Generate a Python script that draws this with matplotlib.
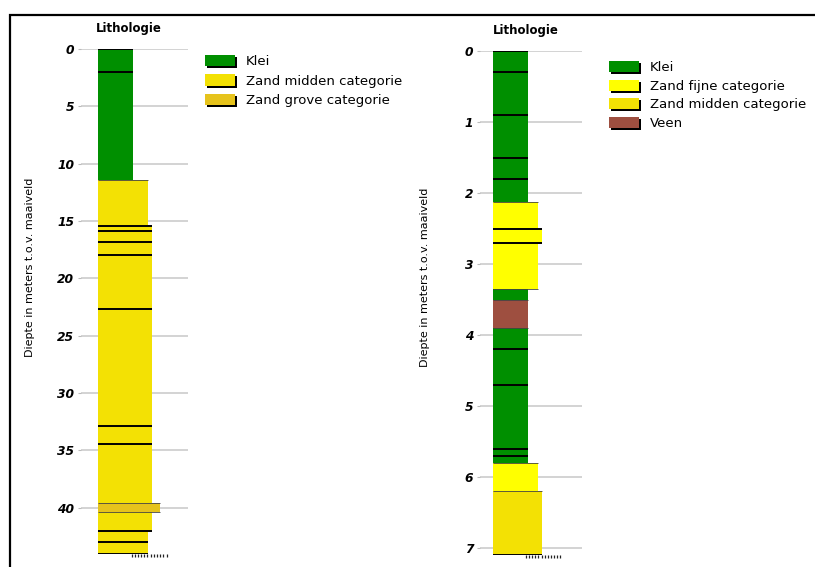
import numpy as np
import matplotlib
matplotlib.use("Agg")
import matplotlib.pyplot as plt
import matplotlib.patheffects as pe
from matplotlib.patches import Patch, Rectangle

# kleuren per lithologie
kleuren = {
    "Klei": "#008f00",
    "Zand fijne categorie": "#ffff00",
    "Zand midden categorie": "#f3e104",
    "Zand grove categorie": "#e6c31c",
    "Veen": "#9e4f40",
}

# boring 1 (links): bovenkant, onderkant, lithologie, breedte (relatief)
links_top = [0.0, 2.0, 11.4, 15.4, 15.9, 16.85, 17.95, 22.7, 32.9, 34.4, 39.6, 40.4, 42.0, 42.95]
links_bot = [2.0, 11.4, 15.4, 15.9, 16.85, 17.95, 22.7, 32.9, 34.4, 39.6, 40.4, 42.0, 42.95, 44.0]
links_lith = ["Klei", "Klei", "Zand midden categorie", "Zand midden categorie",
              "Zand midden categorie", "Zand midden categorie", "Zand midden categorie",
              "Zand midden categorie", "Zand midden categorie", "Zand midden categorie",
              "Zand grove categorie", "Zand midden categorie", "Zand midden categorie",
              "Zand midden categorie"]
links_breedte = [1.0, 1.0, 1.41, 1.54, 1.54, 1.54, 1.54, 1.54, 1.54, 1.54, 1.75, 1.54, 1.41, 1.41]
links_ticks = [0, 5, 10, 15, 20, 25, 30, 35, 40]
links_legenda = ["Klei", "Zand midden categorie", "Zand grove categorie"]

# boring 2 (rechts)
rechts_top = [0.0, 0.3, 0.9, 1.5, 1.8, 2.12, 2.5, 2.7, 3.35, 3.5, 3.9, 4.2, 4.7, 5.6, 5.7, 5.8, 6.2]
rechts_bot = [0.3, 0.9, 1.5, 1.8, 2.12, 2.5, 2.7, 3.35, 3.5, 3.9, 4.2, 4.7, 5.6, 5.7, 5.8, 6.2, 7.1]
rechts_lith = ["Klei", "Klei", "Klei", "Klei", "Klei", "Zand fijne categorie",
               "Zand fijne categorie", "Zand fijne categorie", "Klei", "Veen", "Klei",
               "Klei", "Klei", "Klei", "Klei", "Zand fijne categorie", "Zand midden categorie"]
rechts_breedte = [1.0, 1.0, 1.0, 1.0, 1.0, 1.29, 1.42, 1.29, 1.0, 1.0, 1.0, 1.0, 1.0, 1.0, 1.0, 1.29, 1.42]
rechts_ticks = [0, 1, 2, 3, 4, 5, 6, 7]
rechts_legenda = ["Klei", "Zand fijne categorie", "Zand midden categorie", "Veen"]

W, H = 815, 567
fig = plt.figure(figsize=(W / 100, H / 100), dpi=100)


def teken_boring(rect, top, bot, lith, breedte, ticks, xlim):
    ax = fig.add_axes(rect)
    top = np.array(top)
    bot = np.array(bot)
    dikte = bot - top
    ax.barh(top, breedte, height=dikte, left=0, align="edge",
            color=[kleuren[l] for l in lith], edgecolor="none", zorder=2)
    # grenslijnen tussen lagen
    grenzen = list(top) + [bot[-1]]
    for i, d in enumerate(grenzen):
        boven = breedte[i - 1] if i > 0 else 0
        onder = breedte[i] if i < len(breedte) else 0
        wissel = 0 < i < len(lith) and lith[i] != lith[i - 1]
        if wissel:
            ax.hlines(d, 0, max(boven, onder), color="#444444", lw=0.6, zorder=3)
        else:
            ax.hlines(d, 0, max(boven, onder), color="black", lw=1.4, zorder=3)
    ax.set_ylim(bot[-1], 0)
    ax.set_xlim(*xlim)
    ax.set_yticks(ticks)
    ax.set_yticklabels([str(t) for t in ticks], fontsize=8.8, fontweight="bold", style="italic")
    ax.tick_params(axis="y", length=2, color="#bbbbbb", pad=3)
    ax.set_xticks(np.linspace(0.95, 1.95, 12))
    ax.set_xticklabels([])
    ax.tick_params(axis="x", length=2.5, width=0.9, color="#222222", direction="out")
    ax.grid(axis="y", color="#c8c8c8", lw=1.1)
    ax.set_axisbelow(True)
    for s in ax.spines.values():
        s.set_visible(False)
    ax.text(0.45, 1.028, "Lithologie", transform=ax.transAxes, ha="center", va="bottom",
            fontsize=8.5, fontweight="bold")
    ax.set_facecolor("none")
    return ax


schaduw = [pe.withSimplePatchShadow(offset=(1.5, -1.5), shadow_rgbFace="black", alpha=1.0),
           pe.Normal()]


def legenda(namen, anker, ruimte):
    handles = [Patch(facecolor=kleuren[n], edgecolor="none", label=n, path_effects=schaduw)
               for n in namen]
    fig.legend(handles=handles, loc="upper left", bbox_to_anchor=anker, frameon=False,
               fontsize=9.5, handlelength=2.3, handleheight=0.95, handletextpad=0.8,
               labelspacing=ruimte, borderpad=0, borderaxespad=0)


teken_boring([81 / W, 13.3 / H, 107 / W, 504.7 / H], links_top, links_bot, links_lith,
             links_breedte, links_ticks, (-0.494, 2.563))
teken_boring([480 / W, 11.7 / H, 101.7 / W, 504.3 / H], rechts_top, rechts_bot, rechts_lith,
             rechts_breedte, rechts_ticks, (-0.387, 2.57))

legenda(links_legenda, (205 / W, 1 - 55 / H), 0.46)
legenda(rechts_legenda, (609 / W, 1 - 61 / H), 0.4)

fig.text(30 / W, 1 - 267 / H, "Diepte in meters t.o.v. maaiveld", rotation=90,
         ha="center", va="center", fontsize=8)
fig.text(425 / W, 1 - 277 / H, "Diepte in meters t.o.v. maaiveld", rotation=90,
         ha="center", va="center", fontsize=8)

# kader rond de afbeelding
fig.add_artist(Rectangle((10 / W, -0.1), 1.2, 1.1 - 14.5 / H, transform=fig.transFigure,
                         fill=False, edgecolor="black", lw=1.6))

fig.savefig("out.png", dpi=100)
